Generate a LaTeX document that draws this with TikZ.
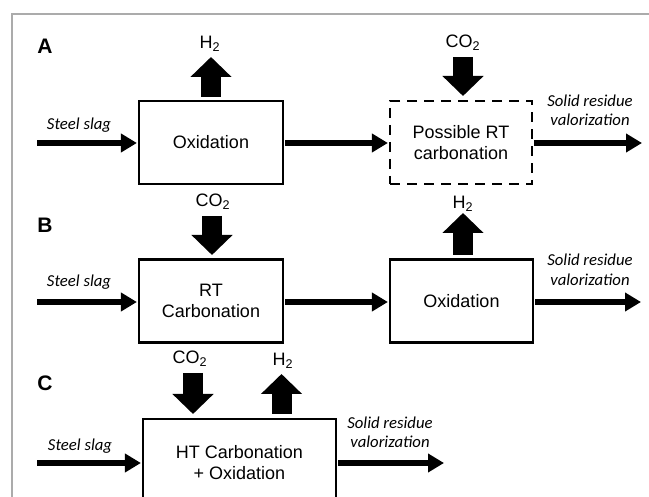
\documentclass[tikz,border=0pt]{standalone}
\usepackage{fontspec}
\setmainfont{Liberation Sans}
\newfontfamily\calfont{Carlito}
\usetikzlibrary{arrows.meta}
\tikzset{
  procbox/.style={draw=black, line width=2.2pt, inner sep=0pt, font=\fontsize{18}{21.6}\selectfont, align=center, minimum width=144pt, minimum height=83pt},
  dashbox/.style={procbox, dash pattern=on 10pt off 7pt},
  flow/.style={line width=5.5pt, -{Triangle[length=16pt,width=18pt]}, shorten <=1pt, shorten >=1pt},
  block/.style={line width=20pt, -{Triangle[length=20pt,width=40pt]}},
  gas/.style={font=\fontsize{18}{21.6}\selectfont, inner sep=0pt},
  ital/.style={font=\calfont\itshape\fontsize{16.7}{19.5}\selectfont, align=center, inner sep=0pt},
  panel/.style={font=\bfseries\fontsize{21}{24}\selectfont, inner sep=0pt},
  frame/.style={draw=black!33, line width=1.5pt}
}
\begin{document}
\begin{tikzpicture}[x=1pt,y=-1pt]
\useasboundingbox (0,0) rectangle (649,497);
\clip (0,0) rectangle (649,497);
\draw[frame] (12,510) -- (12,14) -- (660,14);

% Panel A
\node[panel] (lA) at (45,46) {A};
\node[procbox] (a1) at (211,142.5) {Oxidation};
\node[dashbox, minimum width=142pt] (a2) at (461,142.5) {Possible RT\\carbonation};
\coordinate (ain) at (36,143);
\coordinate (aout) at (643,143);
\draw[flow] (ain) -- (ain -| a1.west);
\draw[flow] (a1.east |- ain) -- (a2.west |- ain);
\draw[flow] (a2.east |- ain) -- (aout);
\node[ital] (sA) at (79,125) {Steel slag};
\node[ital] (rA) at (590,110.5) {Solid residue\\valorization};
\coordinate (aup0) at (211,97);
\coordinate (aup1) at (211,57);
\draw[block] (aup0) -- (aup1);
\node[gas] (hA) at (210,44) {H\textsubscript{2}};
\coordinate (adn0) at (463,57);
\coordinate (adn1) at (463,96);
\draw[block] (adn0) -- (adn1);
\node[gas] (cA) at (463,43) {CO\textsubscript{2}};

% Panel B
\node[panel] (lB) at (45,225) {B};
\node[procbox] (b1) at (211,301) {RT\\Carbonation};
\node[procbox, minimum width=143pt] (b2) at (461.5,301) {Oxidation};
\coordinate (bin) at (36,302);
\coordinate (bout) at (642,302);
\draw[flow] (bin) -- (bin -| b1.west);
\draw[flow] (b1.east |- bin) -- (b2.west |- bin);
\draw[flow] (b2.east |- bin) -- (bout);
\node[ital] (sB) at (79,282) {Steel slag};
\node[ital] (rB) at (590,270) {Solid residue\\valorization};
\coordinate (bdn0) at (212,216);
\coordinate (bdn1) at (212,255);
\draw[block] (bdn0) -- (bdn1);
\node[gas] (cB) at (213,202) {CO\textsubscript{2}};
\coordinate (bup0) at (463,255);
\coordinate (bup1) at (463,213);
\draw[block] (bup0) -- (bup1);
\node[gas] (hB) at (463,204) {H\textsubscript{2}};

% Panel C
\node[panel] (lC) at (45,383) {C};
\node[procbox, minimum width=193pt, minimum height=87pt] (c1) at (239.5,462.5) {HT Carbonation\\+ Oxidation};
\coordinate (cin) at (36,463);
\coordinate (cout) at (445,463);
\draw[flow] (cin) -- (cin -| c1.west);
\draw[flow] (c1.east |- cin) -- (cout);
\node[ital] (sC) at (80,446) {Steel slag};
\node[ital] (rC) at (390,432.5) {Solid residue\\valorization};
\coordinate (cdn0) at (193,373);
\coordinate (cdn1) at (193,414);
\draw[block] (cdn0) -- (cdn1);
\node[gas] (cC) at (190,359) {CO\textsubscript{2}};
\coordinate (cup0) at (281.5,414);
\coordinate (cup1) at (281.5,374);
\draw[block] (cup0) -- (cup1);
\node[gas] (hC) at (283,361) {H\textsubscript{2}};
\end{tikzpicture}
\end{document}
